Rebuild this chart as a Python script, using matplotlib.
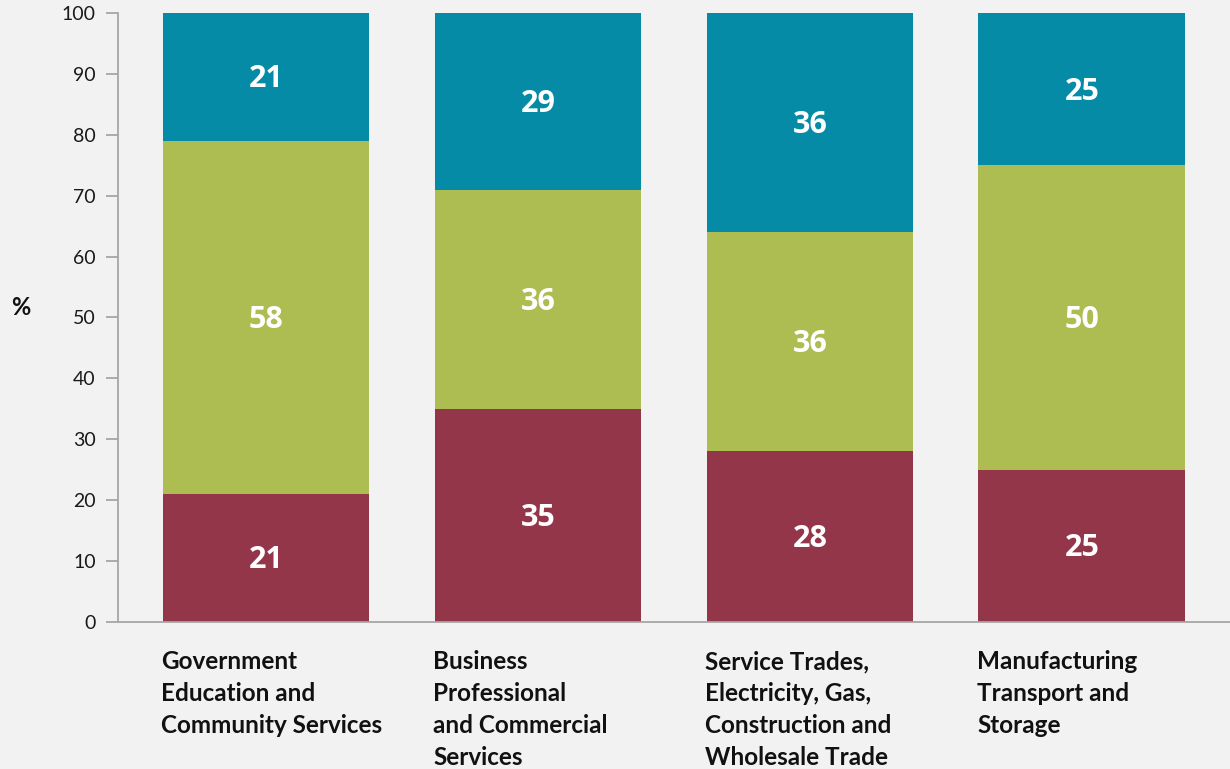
import numpy as np
import matplotlib.pyplot as plt

# Stacked shares (%) by industry group
categories = [
    "Government\nEducation and\nCommunity Services",
    "Business\nProfessional\nand Commercial\nServices",
    "Service Trades,\nElectricity, Gas,\nConstruction and\nWholesale Trade",
    "Manufacturing\nTransport and\nStorage",
]
bottom_vals = [21, 35, 28, 25]
middle_vals = [58, 36, 36, 50]
top_vals = [21, 29, 36, 25]

colors = ["#94364a", "#aebd52", "#058ba5"]
bg = "#f2f2f2"

fig = plt.figure(figsize=(12.3, 7.69), dpi=100, facecolor=bg)
ax = fig.add_axes([0.0959, 0.1912, 0.9041, 0.7919], facecolor=bg)

x = np.arange(len(categories))
width = 0.76
base = np.zeros(len(categories))
for vals, c in zip([bottom_vals, middle_vals, top_vals], colors):
    vals = np.array(vals, dtype=float)
    ax.bar(x, vals, width, bottom=base, color=c, zorder=2)
    for xi, b, v in zip(x, base, vals):
        ax.text(xi, b + v / 2 - 0.4, f"{v:.0f}", ha="center", va="center",
                color="white", fontsize=22, fontweight="bold",
                family="Open Sans", zorder=3)
    base += vals

ax.set_xlim(-0.545, 3.545)
ax.set_ylim(0, 100)
ax.set_yticks(range(0, 101, 10))
ax.set_xticks([])

for s in ["top", "right"]:
    ax.spines[s].set_visible(False)
for s in ["left", "bottom"]:
    ax.spines[s].set_color("#a6a6a6")
    ax.spines[s].set_linewidth(1.3)

ax.tick_params(axis="y", direction="out", length=9, width=1.3,
               color="#a6a6a6", pad=7, labelsize=14, labelcolor="#1a1a1a")
for lab in ax.get_yticklabels():
    lab.set_family("Lato")

# category labels under each bar, left aligned to the bar edge
for xi, cat in zip(x, categories):
    ax.text(xi - width / 2 - 0.005, -4.6, cat, ha="left", va="top",
            fontsize=17.5, fontweight="bold", family="Lato",
            color="#111111", linespacing=1.47)

fig.text(0.017, 0.6, "%", ha="center", va="center", fontsize=17,
         fontweight="bold", family="Lato", color="#111111")

fig.savefig("out.png", dpi=100, facecolor=bg)
